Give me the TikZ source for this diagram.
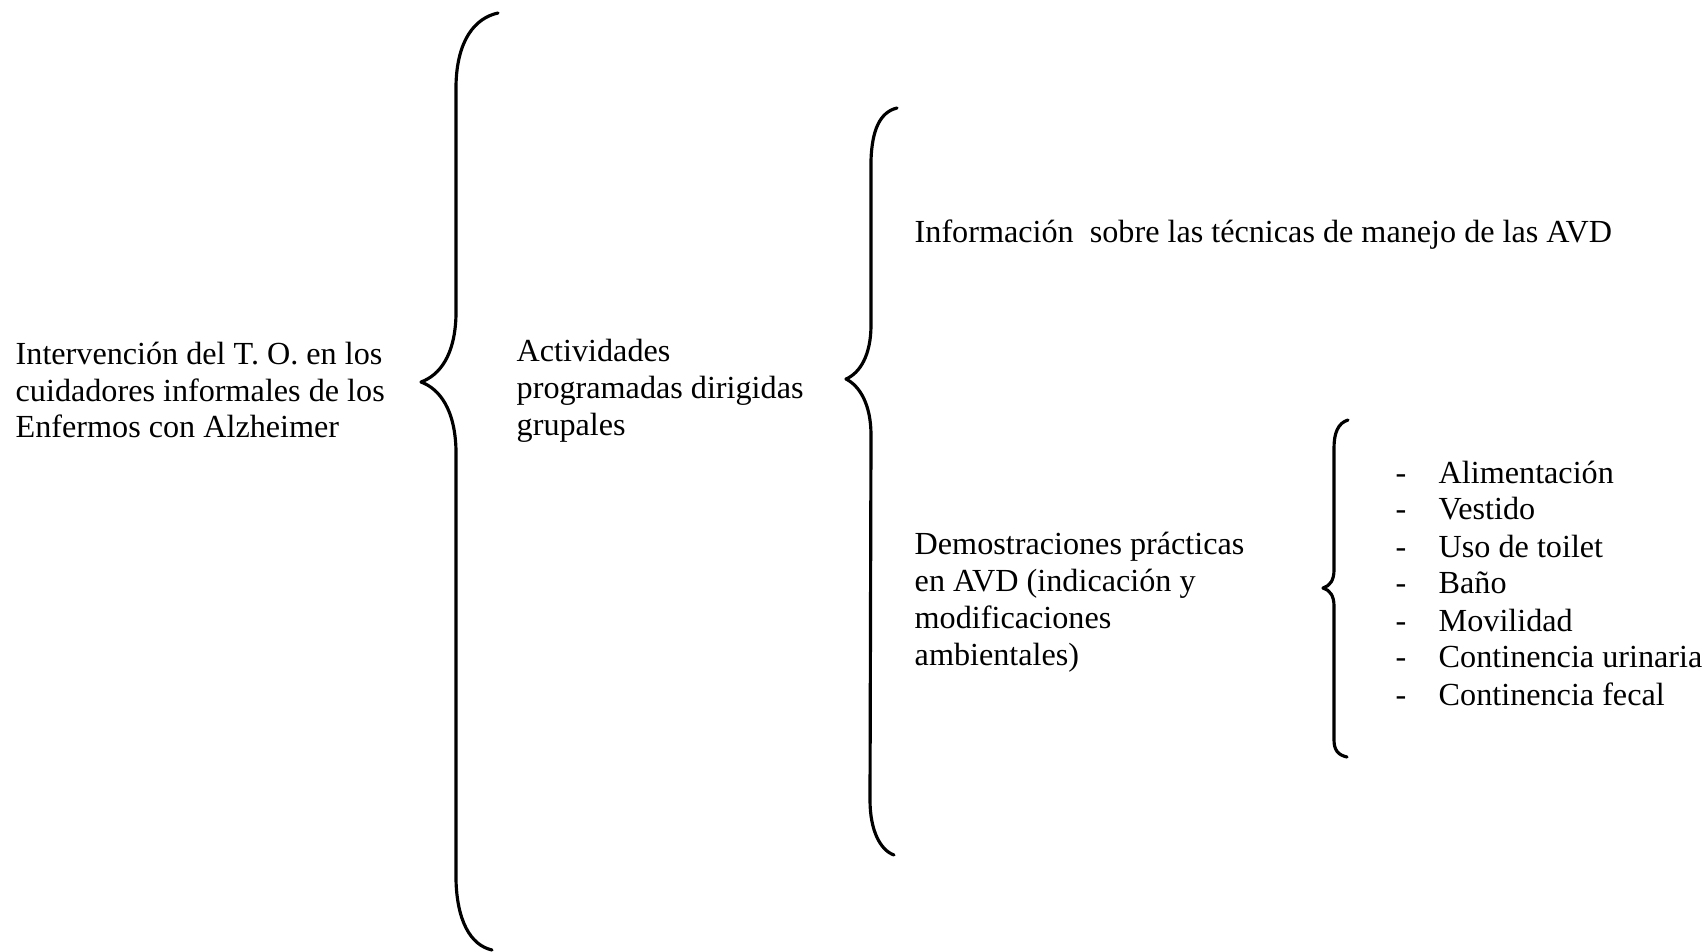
\documentclass[tikz,border=0pt]{standalone}
\usepackage{fontspec}
\setmainfont{Liberation Serif}
\usepackage{tikz}

\tikzset{
	txt/.style={inner sep=0pt, anchor=west, align=left, font=\fontsize{9.15}{10.5}\selectfont},
	dashmark/.style={txt, anchor=base west},
	curly/.style={line width=0.9pt, line cap=round, line join=round}
}

\begin{document}
\begin{tikzpicture}[x=0.01cm, y=-0.01cm]
		\useasboundingbox (0, 0) rectangle (1706, 951);

		% texts
		\node[txt] (interv) at (15, 390) {Intervención del T. O. en los\\cuidadores informales de los\\Enfermos con Alzheimer};
		\node[txt] (activ) at (516, 391) {Actividades\\programadas dirigidas\\grupales};
		\node[txt] (info) at (914, 235) {Información\ \ sobre las técnicas de manejo de las AVD};
		\node[txt] (demo) at (914, 602) {Demostraciones prácticas\\en AVD (indicación y\\modificaciones\\ambientales)};

		\foreach \lbl [count=\i] in {Alimentación, Vestido, Uso de toilet, Baño, Movilidad, Continencia urinaria, Continencia fecal}
		{
			\node[txt] (item\i) at (1438, {472 + 37*(\i-1)}) {\lbl};
			\node[dashmark] (dash\i) at ([xshift=-0.43cm]item\i.base west) {-};
		}

		% braces
		\draw[curly]
		(498, 13) .. controls (475, 18) and (457, 40) .. (456, 85)
		-- (456, 315) .. controls (455, 355) and (440, 375) .. (421, 382)
		.. controls (440, 389) and (455, 410) .. (456, 450)
		-- (456, 880) .. controls (457, 920) and (470, 945) .. (492, 950);

		\draw[curly]
		(897, 108) .. controls (880, 112) and (872, 130) .. (871, 160)
		-- (871, 325) .. controls (871, 355) and (860, 373) .. (846, 379)
		.. controls (860, 386) and (871, 405) .. (871, 435)
		-- (870, 800) .. controls (870, 830) and (880, 850) .. (894, 855);

		\draw[curly]
		(1348, 420) .. controls (1338, 423) and (1334, 433) .. (1334, 448)
		-- (1334, 570) .. controls (1334, 580) and (1330, 586) .. (1323, 588)
		.. controls (1330, 590) and (1334, 596) .. (1334, 606)
		-- (1334, 740) .. controls (1334, 750) and (1338, 755) .. (1347, 757);
	\end{tikzpicture}
\end{document}
